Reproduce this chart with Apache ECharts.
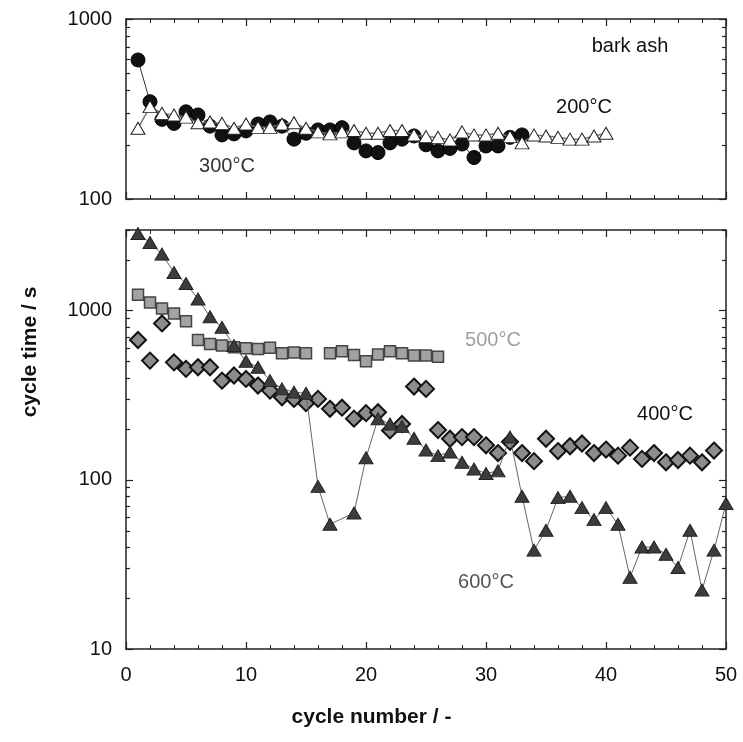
<!DOCTYPE html>
<html>
<head>
<meta charset="utf-8">
<script src="https://cdn.jsdelivr.net/npm/echarts@6/dist/echarts.min.js"></script>
<style>
html,body{margin:0;padding:0;background:#fff;}
#chart{width:743px;height:742px;}
</style>
</head>
<body>
<div id="chart"></div>
<script>
// ---- data ----
const x200 = [1,2,3,4,5,6,7,8,9,10,11,12,13,14,15,16,17,18,19,20,21,22,23,24,25,26,27,28,29,30,31,32,33,34,35,36,37,38,39,40];
const t200 = [247,326,299,293,285,265,268,263,247,261,250,250,261,265,247,236,230,236,240,232,232,240,240,227,222,220,213,236,227,227,232,222,205,227,224,220,215,215,224,232];
const x300 = [1,2,3,4,5,6,7,8,9,10,11,12,13,14,15,16,17,18,19,20,21,22,23,24,25,26,27,28,29,30,31,32,33];
const t300 = [592,347,277,263,305,293,254,227,230,239,261,268,254,215,232,242,242,249,205,185,181,205,215,224,200,185,191,202,170,197,197,220,227];
const x500 = [1,2,3,4,5,6,7,8,9,10,11,12,13,14,15,17,18,19,20,21,22,23,24,25,26];
const t500 = [1243,1119,1032,964,865,671,636,622,608,599,594,603,560,567,560,560,575,547,502,550,575,560,543,543,535];
const x400 = [1,2,3,4,5,6,7,8,9,10,11,12,13,14,15,16,17,18,19,20,21,22,23,24,25,26,27,28,29,30,31,32,33,34,35,36,37,38,39,40,41,42,43,44,45,46,47,48,49];
const t400 = [671,507,841,495,453,463,463,386,414,395,361,337,308,301,284,301,263,267,230,248,251,196,214,356,345,197,175,179,179,160,144,168,144,129,175,148,158,164,144,151,139,155,133,144,127,131,139,127,149];
const x600 = [1,2,3,4,5,6,7,8,9,10,11,12,13,14,15,16,17,19,20,21,22,23,24,25,26,27,28,29,30,31,32,33,34,35,36,37,38,39,40,41,42,43,44,45,46,47,48,49,50];
const t600 = [2857,2529,2160,1683,1449,1172,922,797,622,502,463,386,345,330,325,91.5,54.6,63.7,135,230,214,207,176,150,139,146,127,116,109,113,179,80,38.4,50.4,78.5,80,68.5,58.2,68.5,54.6,26.5,40.1,40.1,36.3,30.3,50.4,22.3,38.4,72.4];

const topMajor = [100, 1000];
const topMinor = [200,300,400,500,600,700,800,900];
const botMajor = [10, 100, 1000];
const botMinor = [20,30,40,50,60,70,80,90,200,300,400,500,600,700,800,900,2000,3000];

const xLabel = 'cycle number / -';
const yLabel = 'cycle time / s';
const notes = [
  {text:'bark ash', x:630, y:46, color:'#111'},
  {text:'200°C', x:584, y:107, color:'#111'},
  {text:'300°C', x:227, y:166, color:'#333'},
  {text:'500°C', x:493, y:340, color:'#a0a0a0'},
  {text:'400°C', x:665, y:414, color:'#111'},
  {text:'600°C', x:486, y:582, color:'#555'}
];

// ---- chart ----
const FONT = '"Liberation Sans", Arial, sans-serif';
const pairs = (xs, ys) => xs.map((x, i) => [x, ys[i]]);
const LINE = {show:true, lineStyle:{color:'#222', width:1.5}};

function xAx(grid, pos, labels) {
  return {
    type:'value', gridIndex:grid, position:pos, min:0, max:50, interval:10,
    axisLine: LINE,
    axisTick:{show:true, inside:true, length:7, lineStyle:{color:'#222', width:1.2}},
    minorTick:{show:true, splitNumber:5, length:4, lineStyle:{color:'#222', width:1}},
    splitLine:{show:false},
    axisLabel:{show:labels, fontFamily:FONT, fontSize:20, color:'#111', margin:16}
  };
}
function yAx(grid, pos, min, max, vals, len, labels, line) {
  return {
    type:'log', logBase:10, gridIndex:grid, position:pos, min:min, max:max,
    axisLine: line ? LINE : {show:false},
    axisTick:{show:true, inside:true, length:len, customValues:vals, lineStyle:{color:'#222', width:1.2}},
    minorTick:{show:false},
    splitLine:{show:false},
    axisLabel:{show:labels, customValues:vals, fontFamily:FONT, fontSize:20, color:'#111', margin:14,
      formatter: v => String(Math.round(v))}
  };
}

const option = {
  animation:false,
  backgroundColor:'#fff',
  grid:[
    {left:126, top:19, width:600, height:180},
    {left:126, top:230, width:600, height:419}
  ],
  xAxis:[
    xAx(0,'bottom',false),
    xAx(0,'top',false),
    xAx(1,'bottom',true),
    xAx(1,'top',false)
  ],
  yAxis:[
    yAx(0,'left',100,1000,topMajor,7,true,true),
    yAx(0,'left',100,1000,topMinor,4,false,false),
    yAx(0,'right',100,1000,topMajor,7,false,true),
    yAx(0,'right',100,1000,topMinor,4,false,false),
    yAx(1,'left',10,3000,botMajor,7,true,true),
    yAx(1,'left',10,3000,botMinor,4,false,false),
    yAx(1,'right',10,3000,botMajor,7,false,true),
    yAx(1,'right',10,3000,botMinor,4,false,false)
  ],
  series:[
    {name:'300°C', type:'line', xAxisIndex:0, yAxisIndex:0, data:pairs(x300,t300),
     symbol:'circle', symbolSize:14, itemStyle:{color:'#111', borderColor:'#000', borderWidth:1},
     lineStyle:{color:'#333', width:1}, z:2},
    {name:'200°C', type:'line', xAxisIndex:0, yAxisIndex:0, data:pairs(x200,t200),
     symbol:'triangle', symbolSize:[14,12], itemStyle:{color:'#fff', borderColor:'#222', borderWidth:1},
     lineStyle:{color:'#777', width:1.5}, z:3},
    {name:'500°C', type:'scatter', xAxisIndex:2, yAxisIndex:4, data:pairs(x500,t500),
     symbol:'rect', symbolSize:11, itemStyle:{color:'#a3a3a3', borderColor:'#444', borderWidth:1.5, opacity:1}, z:2},
    {name:'400°C', type:'scatter', xAxisIndex:2, yAxisIndex:4, data:pairs(x400,t400),
     symbol:'diamond', symbolSize:[16,16], itemStyle:{color:'#8c8c8c', borderColor:'#111', borderWidth:2, opacity:1}, z:3},
    {name:'600°C', type:'line', xAxisIndex:2, yAxisIndex:4, data:pairs(x600,t600),
     symbol:'triangle', symbolSize:[14,12], itemStyle:{color:'#3c3c3c', borderColor:'#222', borderWidth:1},
     lineStyle:{color:'#666', width:1}, z:4}
  ],
  graphic:[
    {type:'text', left:'center', style:{text:xLabel, x:0, y:0, font:'bold 21px '+FONT, fill:'#111'}, top:707},
    {type:'text', x:30, y:352, rotation:Math.PI/2, style:{text:yLabel, font:'bold 21px '+FONT, fill:'#111', align:'center', verticalAlign:'middle'}}
  ].concat(notes.map(n => ({type:'text', x:n.x, y:n.y,
     style:{text:n.text, font:'20px '+FONT, fill:n.color, align:'center', verticalAlign:'middle'}, z:10})))
};

const chart = echarts.init(document.getElementById('chart'), null, {renderer:'canvas'});
chart.setOption(option);
</script>
</body>
</html>
